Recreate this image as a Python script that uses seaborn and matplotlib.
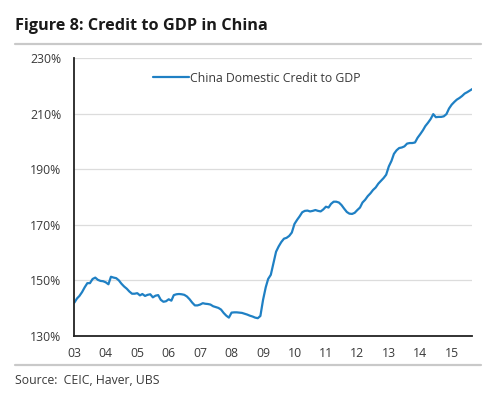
import pandas as pd
import matplotlib
matplotlib.use("Agg")
import matplotlib.pyplot as plt
import seaborn as sns

# ===============================
# Data (monthly from Jan 2003)
# ===============================

credit_2003 = [142.0, 143.5, 144.4, 145.8, 147.5, 149.0, 149.0, 150.5, 151.0, 150.2, 149.8, 149.7]
credit_2004 = [149.3, 148.6, 151.3, 151.0, 150.8, 150.0, 148.8, 147.8, 147.0, 146.0, 145.2, 145.2]
credit_2005 = [145.4, 144.6, 145.1, 144.4, 144.8, 145.0, 143.9, 144.5, 144.7, 143.0, 142.3, 142.5]
credit_2006 = [143.2, 142.7, 144.7, 145.0, 145.1, 145.0, 144.8, 144.2, 143.2, 142.0, 141.0, 141.0]
credit_2007 = [141.3, 141.8, 141.6, 141.5, 141.3, 140.7, 140.4, 140.1, 139.5, 138.3, 137.3, 136.6]
credit_2008 = [138.4, 138.5, 138.5, 138.4, 138.3, 138.0, 137.7, 137.3, 137.0, 136.6, 136.4, 137.2]
credit_2009 = [143.0, 147.5, 150.5, 152.0, 156.0, 160.3, 162.2, 163.8, 165.0, 165.3, 166.0, 167.2]
credit_2010 = [170.3, 171.8, 173.0, 174.5, 175.0, 175.1, 174.8, 175.0, 175.3, 175.0, 174.8, 175.5]
credit_2011 = [176.5, 176.2, 177.5, 178.3, 178.3, 178.0, 177.1, 175.8, 174.6, 174.0, 173.9, 174.3]
credit_2012 = [175.3, 176.2, 178.0, 179.0, 180.3, 181.3, 182.5, 183.4, 184.8, 185.8, 186.8, 188.0]
credit_2013 = [191.0, 193.0, 195.5, 196.8, 197.6, 197.8, 198.2, 199.2, 199.4, 199.4, 199.6, 201.3]
credit_2014 = [202.6, 204.0, 205.5, 206.7, 208.0, 209.8, 208.7, 208.8, 208.8, 209.0, 209.8, 211.8]
credit_2015 = [213.2, 214.2, 215.0, 215.6, 216.3, 217.2, 217.7, 218.3, 218.9]

credit = (credit_2003 + credit_2004 + credit_2005 + credit_2006 + credit_2007
          + credit_2008 + credit_2009 + credit_2010 + credit_2011 + credit_2012
          + credit_2013 + credit_2014 + credit_2015)

dates = pd.date_range("2003-01-01", periods=len(credit), freq="MS")

df = pd.DataFrame({"date": dates, "China Domestic Credit to GDP": credit})

year_ticks = pd.date_range("2003-01-01", "2015-01-01", freq="YS")
year_labels = ["03", "04", "05", "06", "07", "08", "09", "10", "11", "12", "13", "14", "15"]
y_ticks = [130, 150, 170, 190, 210, 230]

# ===============================
# Chart
# ===============================

sns.set_theme(style="white")
plt.rcParams["font.family"] = ["Open Sans", "DejaVu Sans"]

text_col = "#3a3a3a"
rule_col = "#c9c9c9"

fig = plt.figure(figsize=(5.0, 3.97), dpi=100)
ax = fig.add_axes([0.148, 0.1537, 0.796, 0.7003])

sns.lineplot(data=df, x="date", y="China Domestic Credit to GDP", ax=ax,
             color="#1f80c4", linewidth=1.6, label="China Domestic Credit to GDP")

ax.set_ylim(130, 230)
ax.set_xlim(pd.Timestamp("2002-12-28"), pd.Timestamp("2015-08-25"))
ax.set_yticks(y_ticks)
ax.set_yticklabels([f"{v}%" for v in y_ticks])
ax.set_xticks(year_ticks)
ax.set_xticklabels(year_labels)
ax.tick_params(axis="both", length=0, labelsize=8.8, labelcolor=text_col)
ax.tick_params(axis="y", pad=9)
ax.tick_params(axis="x", pad=8)
ax.set_xlabel("")
ax.set_ylabel("")

ax.grid(axis="y", color="#dcdcdc", linewidth=0.9)
ax.set_axisbelow(True)
for side in ["top", "right"]:
    ax.spines[side].set_visible(False)
for side in ["left", "bottom"]:
    ax.spines[side].set_color("#222222")
    ax.spines[side].set_linewidth(1.3)

leg = ax.legend(loc="upper left", bbox_to_anchor=(0.17, 0.99), frameon=False,
                fontsize=8.8, handlelength=3.0, handletextpad=0.05)
for t in leg.get_texts():
    t.set_color(text_col)

# title, rules and source
fig.text(0.03, 0.935, "Figure 8: Credit to GDP in China", fontsize=11.7,
         fontweight="bold", color="#1a1a1a", va="center")
fig.add_artist(plt.Line2D([0.03, 0.962], [1 - 44 / 397, 1 - 44 / 397],
                          color=rule_col, linewidth=1.6))
fig.add_artist(plt.Line2D([0.03, 0.962], [1 - 365 / 397, 1 - 365 / 397],
                          color=rule_col, linewidth=1.6))
fig.text(0.03, 1 - 380 / 397, "Source:  CEIC, Haver, UBS", fontsize=8.8,
         color=text_col, va="center")

fig.savefig("out.png", dpi=100)
plt.close()
